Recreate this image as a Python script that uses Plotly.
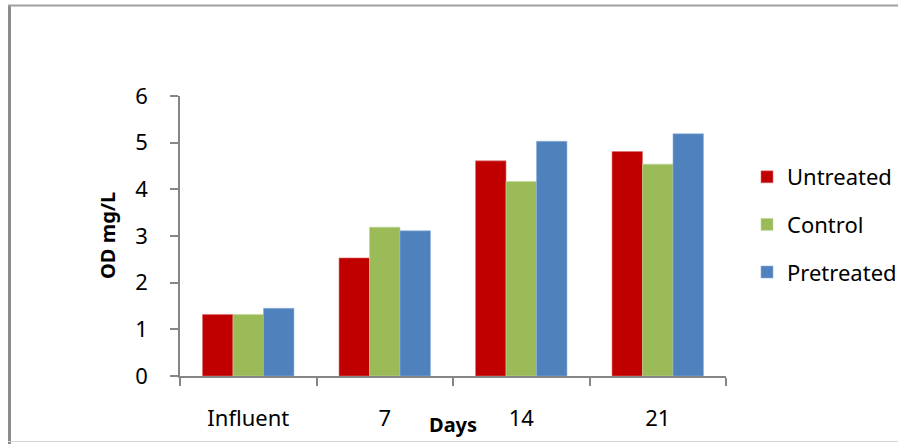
import plotly.graph_objects as go

# Sampling days and measured OD (mg/L) for each treatment
days = ["Influent", "7", "14", "21"]
untreated = [1.32, 2.53, 4.61, 4.81]
control = [1.32, 3.19, 4.17, 4.54]
pretreated = [1.45, 3.11, 5.03, 5.19]

series_names = ["Untreated", "Control", "Pretreated"]
series_values = [untreated, control, pretreated]
series_colors = ["#C00000", "#9BBB59", "#4F81BD"]
series_edges = ["#E07070", "#C3D89A", "#8FB1DC"]

W, H = 898, 444
L, R, T, B = 180, 172, 96, 68
PW, PH = W - L - R, H - T - B


def px_x(x):
    return (x - L) / PW


def px_y(y):
    return (H - B - y) / PH


FONT = "Noto Sans, Open Sans, sans-serif"
AXIS_GRAY = "#868686"

fig = go.Figure()
for name, vals, col, edge in zip(series_names, series_values, series_colors, series_edges):
    fig.add_trace(go.Bar(
        x=days, y=vals, name=name, legendgroup=name,
        marker=dict(color=col, line=dict(color=edge, width=0.6)),
    ))

fig.update_layout(
    width=W, height=H,
    margin=dict(l=L, r=R, t=T, b=B, pad=0, autoexpand=False),
    paper_bgcolor="white", plot_bgcolor="white",
    barmode="group", bargap=0.33, bargroupgap=0,
    font=dict(family=FONT, size=22, color="#000000"),
    showlegend=True,
    legend=dict(
        x=px_x(747), y=px_y(156), xanchor="left", yanchor="top",
        font=dict(family=FONT, size=22, color="#000000"),
        tracegroupgap=16, bgcolor="rgba(0,0,0,0)", borderwidth=0,
        itemclick=False,
    ),
    xaxis=dict(
        type="category", showgrid=False, zeroline=False,
        showline=True, linecolor=AXIS_GRAY, linewidth=1.5,
        ticks="outside", tickson="boundaries", ticklen=8,
        tickcolor=AXIS_GRAY, tickwidth=1.5,
        ticklabelstandoff=22,
        tickfont=dict(family=FONT, size=22, color="#000000"),
    ),
    yaxis=dict(
        range=[0, 6], dtick=1, showgrid=False, zeroline=False,
        showline=True, linecolor=AXIS_GRAY, linewidth=1.5,
        ticks="outside", ticklen=8, tickcolor=AXIS_GRAY, tickwidth=1.5,
        ticklabelstandoff=18,
        tickfont=dict(family=FONT, size=22, color="#000000"),
    ),
    annotations=[
        dict(text="<b>OD mg/L</b>", textangle=-90, showarrow=False,
             xref="paper", yref="paper", x=px_x(107), y=px_y(236),
             xanchor="center", yanchor="middle",
             font=dict(family=FONT, size=20, color="#000000")),
        dict(text="<b>Days</b>", showarrow=False,
             xref="paper", yref="paper", x=px_x(453), y=px_y(424),
             xanchor="center", yanchor="middle",
             font=dict(family=FONT, size=20, color="#000000")),
    ],
    shapes=[
        # chart frame
        dict(type="line", xref="paper", yref="paper",
             x0=px_x(9.5), x1=px_x(9.5), y0=px_y(5), y1=px_y(444),
             line=dict(color="#8C8C8C", width=3)),
        dict(type="line", xref="paper", yref="paper",
             x0=px_x(8), x1=px_x(898), y0=px_y(5.5), y1=px_y(5.5),
             line=dict(color="#A0A0A0", width=2)),
        dict(type="line", xref="paper", yref="paper",
             x0=px_x(8), x1=px_x(898), y0=px_y(441.5), y1=px_y(441.5),
             line=dict(color="#D4D4D4", width=1)),
    ],
)

fig.write_html("out.html")
